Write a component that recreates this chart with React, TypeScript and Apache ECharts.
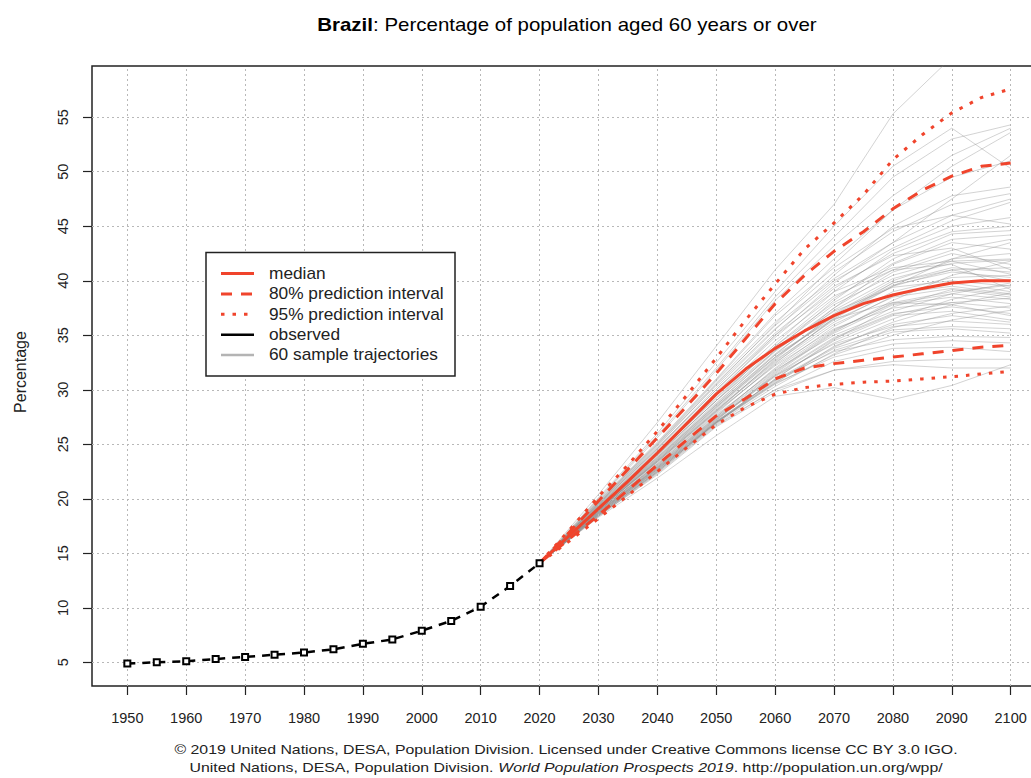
import React, { useEffect, useRef } from "react";
import * as echarts from "echarts";

// ---------- DATA ----------
const xTicks = [1950, 1960, 1970, 1980, 1990, 2000, 2010, 2020, 2030, 2040, 2050, 2060, 2070, 2080, 2090, 2100];
const yTicks = [5, 10, 15, 20, 25, 30, 35, 40, 45, 50, 55];

const obsYears = [1950, 1955, 1960, 1965, 1970, 1975, 1980, 1985, 1990, 1995, 2000, 2005, 2010, 2015, 2020];
const obsValues = [4.9, 5.0, 5.1, 5.3, 5.5, 5.7, 5.9, 6.2, 6.7, 7.1, 7.9, 8.8, 10.1, 12.0, 14.1];

const projYears = [2020, 2025, 2030, 2035, 2040, 2045, 2050, 2055, 2060, 2065, 2070, 2075, 2080, 2085, 2090, 2095, 2100];
const median = [14.1, 16.6, 19.1, 21.6, 24.2, 26.9, 29.6, 31.9, 33.8, 35.4, 36.8, 37.9, 38.7, 39.3, 39.8, 40.0, 40.0];
const upper80 = [14.1, 16.9, 19.8, 22.7, 25.6, 28.5, 31.5, 34.7, 37.9, 40.5, 42.7, 44.5, 46.6, 48.3, 49.6, 50.5, 50.8];
const lower80 = [14.1, 16.3, 18.5, 20.8, 23.1, 25.4, 27.6, 29.2, 31.0, 32.0, 32.4, 32.7, 33.0, 33.3, 33.6, 33.9, 34.1];
const upper95 = [14.1, 17.1, 20.2, 23.1, 26.2, 29.5, 32.9, 36.4, 39.7, 42.9, 45.3, 47.9, 51.1, 53.4, 55.4, 56.8, 57.6];
const lower95 = [14.1, 16.1, 18.2, 20.3, 22.5, 24.7, 26.8, 28.4, 29.6, 30.2, 30.5, 30.7, 30.8, 31.0, 31.2, 31.45, 31.7];

// sample trajectories: values for 2030..2100 (2020 starts at the last observed value)
const trajYears = [2020, 2030, 2040, 2050, 2060, 2070, 2080, 2090, 2100];
const trajectories: number[][] = [
  [20.4, 27.0, 34.0, 41.0, 47.0, 55.3, 60.5, 62.0],
  [20.0, 25.8, 32.0, 38.5, 44.0, 49.5, 53.0, 54.3],
  [19.9, 25.6, 31.8, 38.2, 43.2, 47.8, 51.5, 54.0],
  [20.1, 26.0, 32.5, 39.0, 45.0, 50.5, 54.0, 50.3],
  [19.6, 24.8, 30.5, 36.0, 41.5, 46.5, 50.5, 53.6],
  [19.8, 25.2, 31.0, 37.0, 42.0, 46.5, 49.5, 51.0],
  [19.5, 24.6, 30.2, 35.5, 40.5, 45.0, 47.8, 48.6],
  [19.7, 25.0, 30.8, 36.2, 40.8, 44.5, 47.0, 48.0],
  [19.4, 24.3, 29.6, 35.0, 39.8, 43.5, 46.0, 47.5],
  [19.6, 24.9, 30.4, 35.6, 40.0, 43.0, 45.5, 47.2],
  [19.3, 24.0, 29.0, 34.2, 39.0, 42.8, 45.0, 45.8],
  [19.5, 24.5, 29.8, 34.8, 39.3, 42.5, 44.5, 45.0],
  [19.2, 23.8, 28.7, 33.6, 38.2, 42.0, 44.3, 44.6],
  [19.4, 24.2, 29.3, 34.0, 38.0, 41.0, 42.8, 43.8],
  [19.1, 23.6, 28.4, 33.2, 37.5, 41.5, 43.5, 42.9],
  [19.3, 24.1, 29.0, 33.8, 37.8, 40.5, 42.0, 42.5],
  [19.0, 23.4, 28.0, 32.8, 37.0, 40.0, 41.8, 42.0],
  [19.2, 23.9, 28.8, 33.5, 37.5, 40.8, 42.5, 41.5],
  [19.1, 23.5, 28.2, 32.6, 36.5, 39.5, 41.0, 41.2],
  [18.9, 23.2, 27.8, 32.4, 36.6, 39.8, 41.2, 40.8],
  [19.0, 23.5, 28.3, 32.9, 36.8, 39.6, 40.8, 40.3],
  [19.3, 24.0, 29.0, 33.6, 37.2, 39.4, 40.0, 39.5],
  [18.8, 23.0, 27.5, 32.0, 35.8, 38.6, 39.8, 39.0],
  [19.0, 23.3, 27.9, 32.3, 36.0, 38.5, 39.3, 38.7],
  [19.1, 23.6, 28.4, 33.0, 36.9, 39.8, 41.0, 40.0],
  [18.9, 23.1, 27.6, 31.9, 35.5, 37.9, 38.8, 38.3],
  [18.7, 22.8, 27.2, 31.5, 35.2, 37.8, 38.5, 37.9],
  [19.0, 23.4, 28.0, 32.2, 35.6, 37.5, 38.0, 37.5],
  [18.8, 22.9, 27.3, 31.4, 34.8, 37.0, 37.6, 37.0],
  [18.6, 22.6, 26.9, 31.0, 34.5, 36.8, 37.2, 36.4],
  [18.9, 23.0, 27.4, 31.3, 34.2, 35.8, 36.3, 36.0],
  [18.7, 22.7, 27.0, 30.8, 33.8, 35.5, 35.8, 35.6],
  [18.5, 22.5, 27.0, 30.7, 33.6, 35.3, 35.6, 35.2],
  [18.8, 22.8, 27.1, 30.9, 33.5, 34.6, 34.9, 34.8],
  [18.6, 22.6, 27.1, 30.6, 33.0, 34.2, 34.5, 34.3],
  [18.4, 22.3, 26.7, 30.0, 32.6, 33.8, 33.9, 33.5],
  [18.5, 22.4, 26.8, 30.0, 31.8, 32.6, 32.8, 32.8],
  [18.3, 21.9, 25.8, 29.4, 30.2, 29.1, 30.4, 32.3],
  [18.4, 22.2, 26.6, 29.8, 31.8, 32.3, 32.0, 32.0],
  [19.6, 24.7, 30.0, 35.2, 39.5, 42.3, 43.0, 41.0],
  [19.2, 23.8, 28.6, 33.2, 36.5, 38.0, 37.8, 36.8],
  [19.4, 24.4, 29.5, 34.5, 38.6, 41.0, 41.5, 39.2],
  [18.9, 23.2, 27.7, 31.8, 35.0, 37.2, 38.8, 39.8],
  [18.7, 22.9, 27.3, 31.2, 34.3, 36.5, 38.3, 39.4],
  [18.6, 22.7, 27.1, 30.9, 33.9, 36.2, 37.8, 38.9],
  [19.0, 23.5, 28.1, 32.5, 36.2, 39.0, 40.3, 40.5],
  [19.5, 24.6, 30.0, 35.0, 39.0, 41.2, 41.8, 40.6],
  [18.5, 22.5, 27.0, 30.5, 33.2, 35.0, 36.4, 37.3],
  [19.1, 23.7, 28.5, 33.0, 36.7, 39.5, 42.0, 43.5],
  [18.8, 22.9, 27.4, 31.6, 35.3, 38.2, 40.5, 41.8],
  [19.8, 25.1, 30.9, 36.8, 41.2, 44.8, 46.0, 45.2],
  [19.3, 24.2, 29.2, 34.0, 38.4, 41.6, 43.8, 44.2],
  [18.6, 22.7, 27.0, 31.0, 34.6, 37.6, 39.2, 38.5],
  [18.4, 22.4, 26.9, 30.3, 33.3, 35.7, 37.0, 37.7],
  [19.7, 25.0, 30.6, 35.9, 40.2, 43.5, 47.5, 51.5],
  [19.0, 23.4, 28.1, 32.7, 36.4, 38.8, 39.5, 38.8],
  [18.9, 23.1, 27.5, 31.7, 35.4, 38.0, 39.0, 39.6],
  [18.7, 22.8, 27.2, 31.3, 34.7, 36.9, 38.0, 38.4],
  [19.2, 23.7, 28.6, 33.3, 37.3, 40.2, 41.6, 41.9],
  [18.5, 22.5, 27.0, 30.6, 34.0, 36.0, 36.8, 36.2],
];

const legendLabels = ["median", "80% prediction interval", "95% prediction interval", "observed", "60 sample trajectories"];

// ---------- STYLE ----------
const RED = "#f0442c";
const FONT = "'Liberation Sans', Arial, sans-serif";

const pairs = (xs: number[], ys: number[]) => xs.map((x, i) => [x, ys[i]]);

export default function App() {
  const ref = useRef<HTMLDivElement>(null);

  useEffect(() => {
    if (!ref.current) return;
    const chart = echarts.init(ref.current, null, { renderer: "svg" });

    const startVal = obsValues[obsValues.length - 1];
    const trajSeries = trajectories.map((t, i) => ({
      type: "line",
      name: "traj" + i,
      data: pairs(trajYears, [startVal, ...t]),
      showSymbol: false,
      smooth: false,
      lineStyle: { color: "rgba(140,140,140,0.38)", width: 1 },
      z: 2,
      silent: true,
    }));

    const bandLine = (vals: number[], dash: number[] | "solid", z: number) => ({
      type: "line",
      data: pairs(projYears, vals),
      showSymbol: false,
      lineStyle: { color: RED, width: 3, type: dash, cap: "butt" },
      z,
      silent: true,
    });

    const gridLineStyle = { color: "#b8b8b8", width: 1, type: [2, 3] };

    const option = {
      animation: false,
      backgroundColor: "#ffffff",
      grid: {
        left: 92,
        top: 66,
        width: 954,
        height: 620,
        outerBoundsMode: "none",
        containLabel: false,
        show: true,
        borderColor: "#222",
        borderWidth: 1.5,
        backgroundColor: "transparent",
      },
      xAxis: {
        type: "value",
        min: 1944,
        max: 2106,
        axisLine: { show: false },
        splitLine: { show: false },
        axisTick: { show: true, customValues: xTicks, length: 9, lineStyle: { color: "#222", width: 1.2 } },
        axisLabel: {
          customValues: xTicks,
          fontFamily: FONT,
          fontSize: 14.5,
          color: "#222",
          margin: 24,
          hideOverlap: false,
          formatter: (v: number) => String(v),
        },
      },
      yAxis: {
        type: "value",
        min: 2.83,
        max: 59.7,
        axisLine: { show: false },
        splitLine: { show: false },
        axisTick: { show: true, customValues: yTicks, length: 9, lineStyle: { color: "#222", width: 1.2 } },
        axisLabel: {
          customValues: yTicks,
          rotate: 90,
          fontFamily: FONT,
          fontSize: 14.5,
          color: "#222",
          margin: 22,
          formatter: (v: number) => String(v),
        },
      },
      series: [
        {
          type: "line",
          data: [],
          z: 1,
          silent: true,
          markLine: {
            silent: true,
            symbol: ["none", "none"],
            label: { show: false },
            lineStyle: gridLineStyle,
            emphasis: { disabled: true },
            data: [...xTicks.map((v) => ({ xAxis: v })), ...yTicks.map((v) => ({ yAxis: v }))],
          },
        },
        ...trajSeries,
        bandLine(upper95, [3.5, 8], 5),
        bandLine(lower95, [3.5, 8], 5),
        bandLine(upper80, [11, 9], 6),
        bandLine(lower80, [11, 9], 6),
        bandLine(median, "solid", 7),
        {
          type: "line",
          data: pairs(obsYears, obsValues),
          symbol: "rect",
          symbolSize: 6,
          showSymbol: true,
          lineStyle: { color: "#000", width: 2.5, type: [8, 7] },
          itemStyle: { color: "#fff", borderColor: "#000", borderWidth: 2 },
          z: 8,
          silent: true,
        },
      ],
      graphic: [
        {
          type: "text",
          x: 567,
          y: 25,
          scaleX: 1.17,
          style: {
            text: "{b|Brazil}: Percentage of population aged 60 years or over",
            rich: { b: { fontWeight: "bold", fontSize: 17.5, fontFamily: FONT, fill: "#000" } },
            fontSize: 17.5,
            fontFamily: FONT,
            fill: "#000",
            align: "center",
            verticalAlign: "middle",
          },
        },
        {
          type: "text",
          x: 20,
          y: 372,
          rotation: Math.PI / 2,
          style: {
            text: "Percentage",
            fontSize: 16,
            fontFamily: FONT,
            fill: "#222",
            align: "center",
            verticalAlign: "middle",
          },
        },
        {
          type: "text",
          x: 566,
          y: 750,
          scaleX: 1.27,
          style: {
            text: "\u00a9 2019 United Nations, DESA, Population Division. Licensed under Creative Commons license CC BY 3.0 IGO.",
            fontSize: 12.5,
            fontFamily: FONT,
            fill: "#222",
            align: "center",
            verticalAlign: "middle",
          },
        },
        {
          type: "text",
          x: 566,
          y: 768,
          scaleX: 1.27,
          style: {
            text: "United Nations, DESA, Population Division. {i|World Population Prospects 2019}. http://population.un.org/wpp/",
            rich: { i: { fontStyle: "italic", fontSize: 12.5, fontFamily: FONT, fill: "#222" } },
            fontSize: 12.5,
            fontFamily: FONT,
            fill: "#222",
            align: "center",
            verticalAlign: "middle",
          },
        },
        {
          type: "group",
          children: [
            {
              type: "rect",
              shape: { x: 206, y: 252.5, width: 249, height: 123.5 },
              style: { fill: "#fff", stroke: "#222", lineWidth: 1.5 },
              z: 100,
            },
            ...legendLabels.flatMap((label, i) => {
              const y = 273.5 + i * 20.4;
              const styles = [
                { stroke: RED, lineWidth: 3, lineDash: null },
                { stroke: RED, lineWidth: 3, lineDash: [11, 9] },
                { stroke: RED, lineWidth: 3, lineDash: [3.5, 8] },
                { stroke: "#000", lineWidth: 2.5, lineDash: null },
                { stroke: "#b4b4b4", lineWidth: 2.5, lineDash: null },
              ];
              return [
                {
                  type: "line",
                  shape: { x1: 221, y1: y, x2: 254, y2: y },
                  style: { ...styles[i], lineCap: "butt" },
                  z: 101,
                },
                {
                  type: "text",
                  x: 269,
                  y: y,
                  scaleX: 1.08,
                  style: {
                    text: label,
                    fontSize: 16,
                    fontFamily: FONT,
                    fill: "#222",
                    align: "left",
                    verticalAlign: "middle",
                  },
                  z: 101,
                },
              ];
            }),
          ],
        },
      ],
    };

    chart.setOption(option as any);
    return () => chart.dispose();
  }, []);

  return (
    <div
      ref={ref}
      style={{ position: "fixed", left: 0, top: 0, width: 1031, height: 778, background: "#fff" }}
    />
  );
}
